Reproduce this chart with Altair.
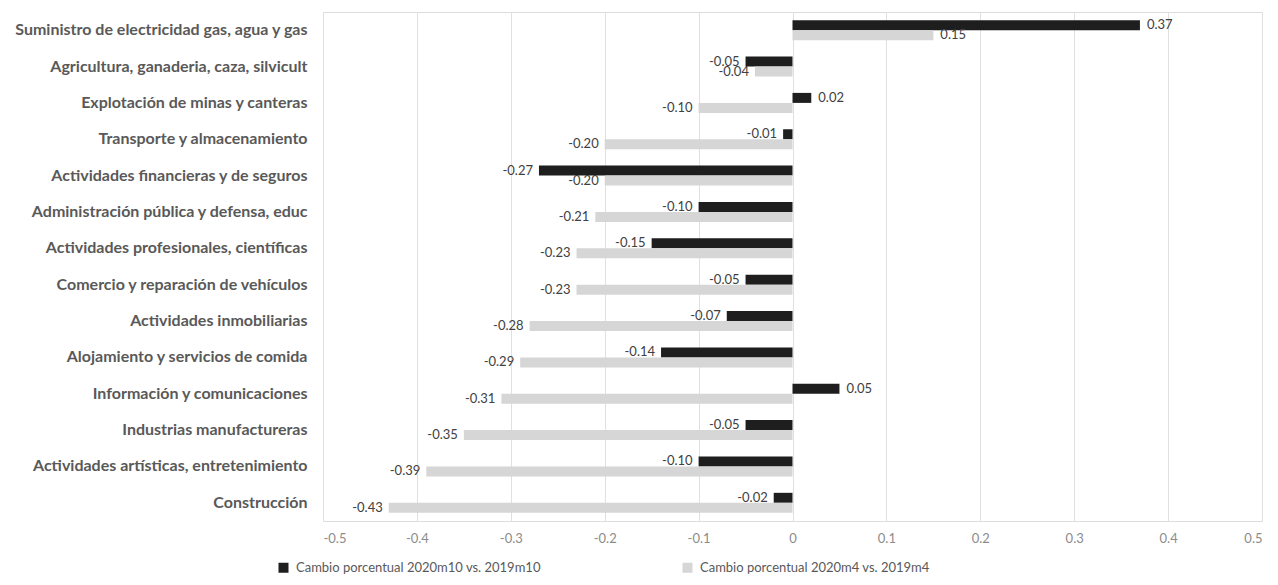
import altair as alt
import pandas as pd

categories = [
    "Suministro de electricidad gas, agua y gas",
    "Agricultura, ganaderia, caza, silvicult",
    "Explotación de minas y canteras",
    "Transporte y almacenamiento",
    "Actividades financieras y de seguros",
    "Administración pública y defensa, educ",
    "Actividades profesionales, científicas",
    "Comercio y reparación de vehículos",
    "Actividades inmobiliarias",
    "Alojamiento y servicios de comida",
    "Información y comunicaciones",
    "Industrias manufactureras",
    "Actividades artísticas, entretenimiento",
    "Construcción",
]
series_names = [
    "Cambio porcentual 2020m10 vs. 2019m10",
    "Cambio porcentual 2020m4 vs. 2019m4",
]
oct_values = [0.37, -0.05, 0.02, -0.01, -0.27, -0.10, -0.15, -0.05, -0.07, -0.14, 0.05, -0.05, -0.10, -0.02]
apr_values = [0.15, -0.04, -0.10, -0.20, -0.20, -0.21, -0.23, -0.23, -0.28, -0.29, -0.31, -0.35, -0.39, -0.43]
colors = ["#1e1e1e", "#d6d6d6"]
x_ticks = [-0.5, -0.4, -0.3, -0.2, -0.1, 0, 0.1, 0.2, 0.3, 0.4, 0.5]

rows = []
for c, a, b in zip(categories, oct_values, apr_values):
    rows.append({"cat": c, "serie": series_names[0], "value": a})
    rows.append({"cat": c, "serie": series_names[1], "value": b})
df = pd.DataFrame(rows)

FONT = "Lato"

y_enc = alt.Y("cat:N", sort=categories,
              scale=alt.Scale(paddingInner=0.45, paddingOuter=0.225),
              axis=alt.Axis(title=None, ticks=False, domain=False, labelFont=FONT,
                            labelFontWeight="bold", labelFontSize=16, labelColor="#595959",
                            labelPadding=16, labelLimit=400))
x_enc = alt.X("value:Q", scale=alt.Scale(domain=[-0.5, 0.5], nice=False),
              axis=alt.Axis(title=None, values=x_ticks, ticks=False, domain=False,
                            grid=True, gridColor="#e0e0e0", labelFont=FONT, labelFontSize=13,
                            labelColor="#8c8c8c", labelPadding=11,
                            labelExpr="(datum.value < 0 ? '-' : '') + format(abs(datum.value), '.1~f')"))
yoff = alt.YOffset("serie:N", sort=series_names, scale=alt.Scale(paddingInner=0, paddingOuter=0))

bars = alt.Chart(df).mark_bar().encode(
    y=y_enc,
    x=x_enc,
    yOffset=yoff,
    color=alt.Color("serie:N", sort=series_names,
                    scale=alt.Scale(domain=series_names, range=colors),
                    legend=alt.Legend(title=None, orient="none", direction="horizontal",
                                      legendX=-46, legendY=549, symbolType="square",
                                      symbolSize=100, symbolStrokeWidth=0,
                                      labelFont=FONT, labelFontSize=13, labelColor="#595959",
                                      columnPadding=140, labelLimit=400, labelOffset=6)),
)

base_text = alt.Chart(df).transform_calculate(
    label="(datum.value < 0 ? '-' : '') + format(abs(datum.value), '.2f')"
)
text_neg = base_text.transform_filter("datum.value < 0").mark_text(
    align="right", baseline="middle", dx=-6, font=FONT, fontSize=13, color="#404040"
).encode(y=alt.Y("cat:N", sort=categories), x="value:Q", yOffset=yoff, text="label:N")
text_pos = base_text.transform_filter("datum.value >= 0").mark_text(
    align="left", baseline="middle", dx=7, font=FONT, fontSize=13, color="#404040"
).encode(y=alt.Y("cat:N", sort=categories), x="value:Q", yOffset=yoff, text="label:N")

chart = alt.layer(bars, text_neg, text_pos).properties(
    width=939, height=509,
    autosize=alt.AutoSizeParams(type="none"),
    padding={"left": 315, "top": 4, "right": 8, "bottom": 56},
).configure_view(stroke=None).configure(background="white")

chart.save("out.html", embed_options={"renderer": "svg", "actions": False})
